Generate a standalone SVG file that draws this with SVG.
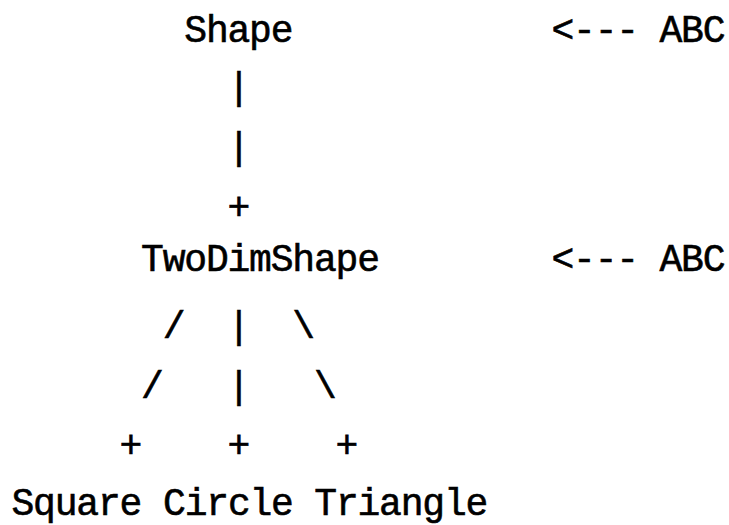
<svg xmlns="http://www.w3.org/2000/svg" width="729" height="525" viewBox="0 0 729 525">
<style>
.t{font-family:"Liberation Mono","DejaVu Sans Mono",monospace;font-size:38px;letter-spacing:-1.2px;fill:#000;stroke:#000;stroke-width:0.6px}
</style>
<rect width="729" height="525" fill="#fff"/>
<g id="connectors" class="t">
<text x="227.5" y="99">|</text>
<text x="227.5" y="158.5">|</text>
<text x="227.5" y="219">+</text>
<text x="162.7" y="338">/</text>
<text x="227.5" y="338">|</text>
<text x="292.3" y="338">\</text>
<text x="141.1" y="398">/</text>
<text x="227.5" y="398">|</text>
<text x="313.9" y="398">\</text>
<text x="119.5" y="457">+</text>
<text x="227.5" y="457">+</text>
<text x="335.5" y="457">+</text>
</g>
<g id="shape" class="t"><text x="184.3" y="42">Shape</text></g>
<g id="abc1" class="t"><text x="551.5" y="42">&lt;--- ABC</text></g>
<g id="twodimshape" class="t"><text x="141.1" y="271">TwoDimShape</text></g>
<g id="abc2" class="t"><text x="551.5" y="271">&lt;--- ABC</text></g>
<g id="square" class="t"><text x="11.5" y="515">Square</text></g>
<g id="circle" class="t"><text x="163.1" y="515">Circle</text></g>
<g id="triangle" class="t"><text x="314.3" y="515">Triangle</text></g>
</svg>
